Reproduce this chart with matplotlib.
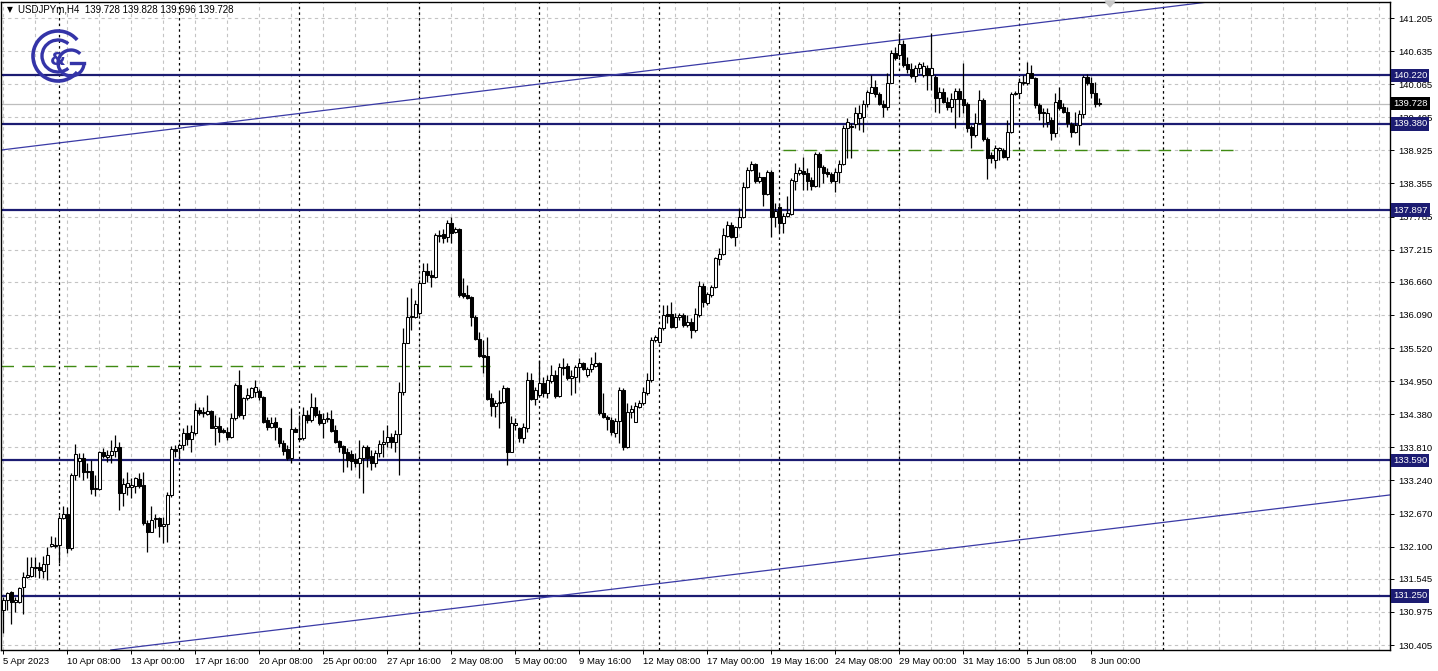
import matplotlib
matplotlib.use('Agg')
import matplotlib.pyplot as plt
from matplotlib.patches import Arc, Polygon
from matplotlib.transforms import blended_transform_factory

# ---------------- data (USDJPYm, H4) ----------------
opens = [
    131.01, 131.18, 131.32, 131.15, 131.15, 131.41, 131.58, 131.59, 131.73, 131.75,
    131.68, 131.80, 132.11, 132.13, 132.13, 132.59, 132.66, 132.08, 133.33, 133.57,
    133.63, 133.40, 133.40, 133.09, 133.09, 133.73, 133.64, 133.68, 133.75, 133.82,
    133.02, 133.13, 133.13, 133.14, 133.26, 133.16, 132.51, 132.35, 132.57, 132.59,
    132.45, 132.49, 132.99, 133.78, 133.80, 133.85, 134.06, 133.95, 134.06, 134.45,
    134.40, 134.38, 134.44, 134.14, 134.18, 134.11, 134.07, 133.99, 134.32, 134.88,
    134.37, 134.66, 134.68, 134.76, 134.78, 134.68, 134.28, 134.16, 134.25, 134.14,
    133.88, 133.78, 133.63, 134.13, 133.97, 133.97, 134.37, 134.28, 134.50, 134.38,
    134.23, 134.30, 134.30, 134.11, 133.92, 133.83, 133.73, 133.69, 133.61, 133.54,
    133.63, 133.82, 133.66, 133.54, 133.71, 133.87, 133.90, 133.99, 133.90, 134.04,
    134.76, 135.61, 136.05, 136.05, 136.12, 136.64, 136.85, 136.78, 136.74, 137.45,
    137.48, 137.43, 137.67, 137.52, 137.57, 136.47, 136.43, 136.40, 136.05, 135.68,
    135.40, 135.38, 134.66, 134.52, 134.57, 134.59, 134.83, 133.73, 134.19, 134.14,
    133.97, 134.14, 134.97, 134.64, 134.71, 134.92, 134.75, 134.95, 135.06, 134.69,
    135.19, 135.21, 135.00, 135.02, 135.19, 135.26, 135.06, 135.16, 135.21, 135.26,
    134.40, 134.33, 134.28, 134.06, 134.26, 134.80, 133.82, 134.42, 134.25, 134.50,
    134.57, 134.75, 134.97, 135.66, 135.63, 135.87, 136.11, 136.11, 135.88, 136.05,
    136.09, 135.92, 135.97, 135.83, 136.09, 136.59, 136.30, 136.43, 136.57, 137.05,
    137.14, 137.45, 137.64, 137.43, 137.60, 137.78, 138.30, 138.59, 138.69, 138.40,
    138.47, 138.17, 138.55, 137.78, 137.95, 137.67, 137.79, 137.83, 138.40, 138.54,
    138.57, 138.54, 138.41, 138.31, 138.86, 138.64, 138.55, 138.52, 138.40, 138.55,
    138.69, 139.31, 139.33, 139.38, 139.48, 139.50, 139.72, 139.91, 140.01, 139.90,
    139.72, 139.67, 140.09, 140.60, 140.57, 140.76, 140.41, 140.33, 140.21, 140.34,
    140.22, 140.34, 140.22, 140.19, 139.83, 139.93, 139.76, 139.67, 139.81, 139.95,
    139.81, 139.72, 139.33, 139.19, 139.40, 139.79, 139.12, 138.85, 138.76, 138.93,
    138.93, 138.81, 139.24, 139.90, 139.91, 140.09, 140.09, 140.26, 140.17, 139.71,
    139.59, 139.41, 139.45, 139.22, 139.79, 139.67, 139.59, 139.38, 139.24, 139.36,
    139.55, 140.19, 140.09, 139.91, 139.728,
]
highs = [
    131.23, 131.32, 131.33, 131.23, 131.41, 131.66, 131.92, 131.92, 131.92, 131.83,
    131.94, 132.09, 132.28, 132.26, 132.64, 132.80, 132.78, 133.37, 133.87, 133.71,
    133.71, 133.54, 133.59, 133.33, 133.75, 133.80, 133.76, 133.93, 134.02, 133.90,
    133.28, 133.39, 133.28, 133.30, 133.37, 133.39, 132.56, 132.80, 132.66, 132.61,
    132.61, 133.04, 133.83, 133.85, 133.88, 134.14, 134.19, 134.19, 134.57, 134.50,
    134.50, 134.71, 134.45, 134.37, 134.33, 134.14, 134.16, 134.40, 134.92, 135.14,
    134.68, 134.83, 134.85, 134.97, 134.81, 134.69, 134.33, 134.33, 134.33, 134.16,
    133.93, 133.85, 134.49, 134.16, 134.37, 134.50, 134.45, 134.75, 134.68, 134.45,
    134.40, 134.42, 134.45, 134.19, 133.93, 133.85, 133.80, 133.76, 133.71, 133.93,
    133.85, 133.85, 133.76, 133.76, 133.93, 134.11, 134.19, 134.06, 134.11, 134.93,
    135.86, 136.40, 136.55, 136.35, 136.69, 136.98, 136.98, 136.86, 137.50, 137.55,
    137.57, 137.72, 137.78, 137.60, 137.59, 136.73, 136.61, 136.42, 136.09, 135.80,
    135.66, 135.71, 134.75, 134.62, 134.80, 134.88, 134.85, 134.35, 134.32, 134.16,
    134.23, 135.11, 135.09, 134.85, 135.31, 135.02, 135.06, 135.23, 135.14, 135.26,
    135.35, 135.26, 135.14, 135.23, 135.35, 135.28, 135.19, 135.37, 135.45, 135.28,
    134.75, 134.37, 134.33, 134.32, 134.85, 134.83, 134.57, 134.54, 134.59, 134.62,
    134.85, 135.09, 135.71, 135.75, 135.88, 136.26, 136.26, 136.31, 136.12, 136.12,
    136.12, 136.09, 136.04, 136.21, 136.67, 136.64, 136.49, 136.61, 137.09, 137.24,
    137.59, 137.71, 137.69, 137.62, 137.93, 138.38, 138.64, 138.74, 138.71, 138.55,
    138.47, 138.59, 138.59, 138.02, 138.02, 137.85, 138.14, 138.45, 138.71, 138.64,
    138.81, 138.62, 138.47, 138.90, 138.90, 138.67, 138.62, 138.55, 138.62, 138.76,
    139.36, 139.48, 139.40, 139.67, 139.71, 139.79, 139.97, 140.22, 140.14, 139.93,
    139.79, 140.26, 140.65, 140.71, 140.95, 140.83, 140.53, 140.43, 140.40, 140.45,
    140.45, 140.40, 140.95, 140.22, 140.02, 140.00, 139.84, 139.91, 140.00, 140.00,
    140.43, 139.76, 139.36, 139.57, 139.97, 139.83, 139.16, 138.90, 139.02, 138.98,
    138.97, 139.45, 139.93, 139.95, 140.17, 140.22, 140.45, 140.40, 140.19, 139.74,
    139.65, 139.65, 139.50, 139.91, 140.02, 139.74, 139.67, 139.41, 139.59, 139.62,
    140.22, 140.24, 140.19, 140.10, 139.828,
]
lows = [
    130.61, 131.01, 130.77, 130.97, 131.13, 130.94, 131.56, 131.58, 131.58, 131.56,
    131.56, 131.52, 132.09, 132.08, 131.82, 132.58, 131.99, 132.04, 133.25, 133.30,
    133.25, 133.28, 133.01, 132.97, 133.08, 133.63, 133.56, 133.54, 133.64, 132.73,
    132.80, 132.99, 132.94, 133.02, 133.11, 132.47, 132.01, 132.35, 132.42, 132.27,
    132.16, 132.18, 132.95, 133.64, 133.63, 133.76, 133.85, 133.73, 134.02, 134.37,
    134.33, 134.37, 134.14, 133.85, 133.90, 134.06, 133.93, 133.97, 134.28, 134.33,
    134.30, 134.62, 134.66, 134.68, 134.62, 134.23, 134.11, 134.14, 133.93, 133.82,
    133.68, 133.59, 133.54, 134.07, 133.93, 133.93, 134.23, 134.25, 134.33, 134.19,
    133.97, 134.25, 134.07, 133.88, 133.73, 133.38, 133.47, 133.42, 133.47, 133.28,
    133.02, 133.47, 133.42, 133.47, 133.64, 133.64, 133.82, 133.80, 133.73, 133.33,
    134.71, 135.61, 135.83, 136.04, 136.09, 136.64, 136.66, 136.57, 136.73, 137.35,
    137.33, 137.35, 137.33, 137.50, 136.40, 136.38, 136.36, 135.90, 135.66, 135.37,
    135.09, 134.62, 134.35, 134.33, 134.14, 134.57, 133.51, 133.73, 134.11, 133.90,
    133.88, 134.07, 134.62, 134.54, 134.68, 134.68, 134.66, 134.92, 134.66, 134.68,
    135.06, 134.97, 134.71, 134.75, 134.93, 135.14, 135.02, 135.11, 135.19, 134.37,
    134.32, 134.11, 134.02, 133.99, 133.88, 133.76, 133.80, 134.32, 134.25, 134.49,
    134.54, 134.71, 134.93, 135.63, 135.61, 135.83, 135.95, 135.87, 135.87, 136.00,
    135.88, 135.88, 135.69, 135.80, 136.05, 136.23, 136.26, 136.40, 136.55, 136.95,
    137.12, 137.43, 137.42, 137.28, 137.59, 137.76, 138.28, 138.57, 138.36, 138.36,
    137.97, 138.16, 137.43, 137.60, 137.52, 137.50, 137.78, 137.81, 138.24, 138.50,
    138.24, 138.24, 138.24, 138.30, 138.30, 138.36, 138.47, 138.36, 138.21, 138.36,
    138.67, 138.79, 138.79, 139.31, 139.28, 139.24, 139.67, 139.91, 139.84, 139.71,
    139.50, 139.62, 140.09, 140.48, 140.53, 140.36, 140.26, 140.17, 140.10, 140.26,
    140.19, 139.97, 139.97, 139.59, 139.57, 139.74, 139.62, 139.59, 139.31, 139.50,
    139.57, 139.24, 138.97, 139.15, 139.38, 139.09, 138.43, 138.71, 138.62, 138.76,
    138.79, 138.76, 139.22, 139.88, 139.84, 140.05, 140.05, 140.17, 139.65, 139.45,
    139.33, 139.33, 139.10, 139.15, 139.62, 139.57, 139.33, 139.15, 139.22, 139.02,
    139.48, 140.05, 139.83, 139.67, 139.696,
]
closes = [
    131.18, 131.30, 131.15, 131.18, 131.39, 131.58, 131.61, 131.75, 131.75, 131.70,
    131.80, 131.96, 132.14, 132.11, 132.59, 132.66, 132.08, 133.33, 133.69, 133.63,
    133.39, 133.39, 133.09, 133.11, 133.73, 133.66, 133.68, 133.75, 133.82, 133.02,
    133.18, 133.20, 133.16, 133.28, 133.14, 132.51, 132.35, 132.56, 132.59, 132.45,
    132.49, 132.99, 133.78, 133.75, 133.85, 134.06, 133.95, 134.07, 134.45, 134.40,
    134.42, 134.44, 134.14, 134.18, 134.07, 134.07, 133.99, 134.32, 134.88, 134.37,
    134.66, 134.71, 134.83, 134.85, 134.68, 134.25, 134.16, 134.23, 134.16, 133.88,
    133.75, 133.63, 134.13, 134.07, 133.95, 134.37, 134.28, 134.50, 134.37, 134.23,
    134.30, 134.31, 134.09, 133.90, 133.82, 133.71, 133.59, 133.57, 133.54, 133.63,
    133.82, 133.63, 133.54, 133.71, 133.87, 133.90, 133.99, 133.90, 134.04, 134.76,
    135.61, 136.05, 136.07, 136.28, 136.64, 136.85, 136.78, 136.74, 137.47, 137.47,
    137.42, 137.67, 137.50, 137.57, 136.43, 136.42, 136.38, 136.05, 135.68, 135.38,
    135.37, 134.64, 134.52, 134.57, 134.59, 134.83, 133.73, 134.23, 134.23, 133.97,
    134.16, 134.97, 134.64, 134.80, 134.92, 134.75, 134.97, 135.06, 134.69, 135.19,
    135.18, 135.00, 135.04, 135.19, 135.26, 135.16, 135.16, 135.25, 135.26, 134.40,
    134.33, 134.30, 134.07, 134.26, 134.80, 133.82, 134.42, 134.47, 134.52, 134.57,
    134.76, 134.97, 135.66, 135.71, 135.87, 136.09, 136.07, 135.88, 136.05, 136.09,
    135.92, 135.97, 135.83, 136.11, 136.59, 136.31, 136.45, 136.57, 137.07, 137.14,
    137.47, 137.64, 137.43, 137.60, 137.78, 138.30, 138.59, 138.69, 138.40, 138.47,
    138.17, 138.55, 137.78, 137.88, 137.67, 137.79, 137.85, 138.41, 138.54, 138.59,
    138.52, 138.40, 138.31, 138.86, 138.64, 138.54, 138.52, 138.40, 138.55, 138.69,
    139.31, 139.41, 139.35, 139.57, 139.57, 139.72, 139.93, 140.01, 139.90, 139.72,
    139.67, 140.09, 140.60, 140.52, 140.76, 140.40, 140.33, 140.21, 140.34, 140.41,
    140.38, 140.22, 140.34, 139.83, 139.93, 139.76, 139.67, 139.81, 139.95, 139.81,
    139.71, 139.31, 139.19, 139.40, 139.79, 139.12, 138.79, 138.79, 138.97, 138.97,
    138.81, 139.24, 139.90, 139.91, 140.10, 140.10, 140.26, 140.17, 139.71, 139.57,
    139.57, 139.57, 139.22, 139.76, 139.65, 139.59, 139.40, 139.24, 139.36, 139.55,
    140.19, 140.09, 139.91, 139.72, 139.728,
]

time_labels = ['5 Apr 2023', '10 Apr 08:00', '13 Apr 00:00', '17 Apr 16:00', '20 Apr 08:00',
               '25 Apr 00:00', '27 Apr 16:00', '2 May 08:00', '5 May 00:00', '9 May 16:00',
               '12 May 08:00', '17 May 00:00', '19 May 16:00', '24 May 08:00', '29 May 00:00',
               '31 May 16:00', '5 Jun 08:00', '8 Jun 00:00']
price_ticks = [141.205, 140.635, 140.065, 139.495, 138.925, 138.355, 137.785, 137.215,
               136.660, 136.090, 135.520, 134.950, 134.380, 133.810, 133.240, 132.670,
               132.100, 131.545, 130.975, 130.405]
levels = [140.220, 139.380, 137.897, 133.590, 131.250]
current_price = 139.728
week_starts = [14, 44, 74, 104, 134, 164, 194, 224, 254, 290]
green_lines = [(135.21, -0.75, 121.75), (138.93, 195.0, 307.5)]
upper_channel = [(-0.75, 138.93), (298.75, 141.46)]
lower_channel = [(31.75, 130.36), (346.75, 132.99)]
title = 'USDJPYm,H4  139.728 139.828 139.696 139.728'

# ---------------- figure ----------------
W, H = 1438, 671
fig = plt.figure(figsize=(W / 100, H / 100), dpi=100)
fig.patch.set_facecolor('white')
ax = fig.add_axes([0.5 / W, 21 / H, 1389.5 / W, 648 / H])
XMIN, XMAX = -0.75, 346.75
YMIN, YMAX = 130.319, 141.481
ax.set_xlim(XMIN, XMAX)
ax.set_ylim(YMIN, YMAX)

NAVY = '#1c1c72'
GRID = '#c4c4c4'

# grid
for k in range(0, 348, 8):
    ax.axvline(k, color=GRID, lw=0.8, ls=(0, (3, 3)), zorder=0)
for p in price_ticks:
    ax.axhline(p, color=GRID, lw=0.8, ls=(0, (3, 3)), zorder=0)
for w in week_starts:
    ax.axvline(w, color='black', lw=0.9, ls=(0, (2, 2.5)), zorder=1)

# current price line
ax.axhline(current_price, color='#bdbdbd', lw=0.9, zorder=1)

# horizontal levels
for lv in levels:
    ax.axhline(lv, color=NAVY, lw=1.6, zorder=2)

# channel
ax.axline(upper_channel[0], upper_channel[1], color='#3a3aa6', lw=0.9, zorder=2)
ax.axline(lower_channel[0], lower_channel[1], color='#3a3aa6', lw=0.9, zorder=2)

# green dashed
for p, x0, x1 in green_lines:
    ax.plot([x0, x1], [p, p], color='#3f8a12', lw=1.0, ls=(0, (9, 6)), zorder=2)

# candles
n = len(closes)
idx = list(range(n))
ax.vlines(idx, lows, highs, color='black', lw=0.9, zorder=3)
bottoms = [min(o, c) for o, c in zip(opens, closes)]
heights = [max(abs(c - o), 0.006) for o, c in zip(opens, closes)]
faces = ['white' if c >= o else 'black' for o, c in zip(opens, closes)]
ax.bar(idx, heights, bottom=bottoms, width=0.7, color=faces, edgecolor='black',
       linewidth=0.75, zorder=4)

# axes styling
for s in ax.spines.values():
    s.set_color('black')
    s.set_linewidth(1.0)
ax.yaxis.tick_right()
ax.set_yticks(price_ticks)
ax.set_yticklabels([f'{p:.3f}' for p in price_ticks])
ax.tick_params(axis='y', which='both', right=True, left=False, length=3, width=0.7,
               pad=3, labelsize=6.8, colors='black')
xt = [16 * k for k in range(len(time_labels))]
ax.set_xticks(xt)
ax.set_xticklabels(time_labels)
ax.tick_params(axis='x', length=3, width=0.7, pad=2, labelsize=6.8)
for lbl in ax.get_xticklabels():
    lbl.set_horizontalalignment('left')
    lbl.set_fontfamily('Liberation Sans')
for lbl in ax.get_yticklabels():
    lbl.set_fontfamily('Liberation Sans')

# right-axis boxed labels
trans = blended_transform_factory(ax.transAxes, ax.transData)
for lv in levels:
    ax.text(1.0 + 3 / 1390, lv, f'{lv:.3f}', transform=trans, ha='left', va='center',
            color='white', fontsize=6.8, family='Liberation Sans', zorder=10,
            bbox=dict(boxstyle='square,pad=0.22', fc=NAVY, ec='none'), clip_on=False)
ax.text(1.0 + 3 / 1390, current_price, f'{current_price:.3f}', transform=trans, ha='left',
        va='center', color='white', fontsize=6.8, family='Liberation Sans', zorder=10,
        bbox=dict(boxstyle='square,pad=0.22', fc='black', ec='none'), clip_on=False)

# overlay for title / logo
ov = fig.add_axes([0, 0, 1, 1], zorder=20)
ov.set_xlim(0, W)
ov.set_ylim(H, 0)
ov.axis('off')
ov.patch.set_alpha(0)
ov.text(7, 10, '\u25BC', fontsize=5.5, va='center', ha='left', color='black')
ov.text(18, 10, title, fontsize=7, va='center', ha='left', color='black',
        family='Liberation Sans')
LOGO = '#3434a8'
ov.add_patch(Arc((58, 56), 50, 50, theta1=40, theta2=320, color=LOGO, lw=2.6))
ov.add_patch(Arc((58, 56), 32, 32, theta1=50, theta2=310, color=LOGO, lw=2.4))
ov.add_patch(Arc((71, 63), 26, 26, theta1=0, theta2=315, color=LOGO, lw=2.4))
ov.plot([71, 84], [63, 63], color=LOGO, lw=2.4)
ov.text(58, 60, '&', fontsize=13, fontweight='bold', color=LOGO, ha='center', va='center')
ov.add_patch(Polygon([[1105, 1], [1115, 1], [1110, 7]], closed=True, color='#c8c8c8'))

fig.savefig('out.png', dpi=100)
